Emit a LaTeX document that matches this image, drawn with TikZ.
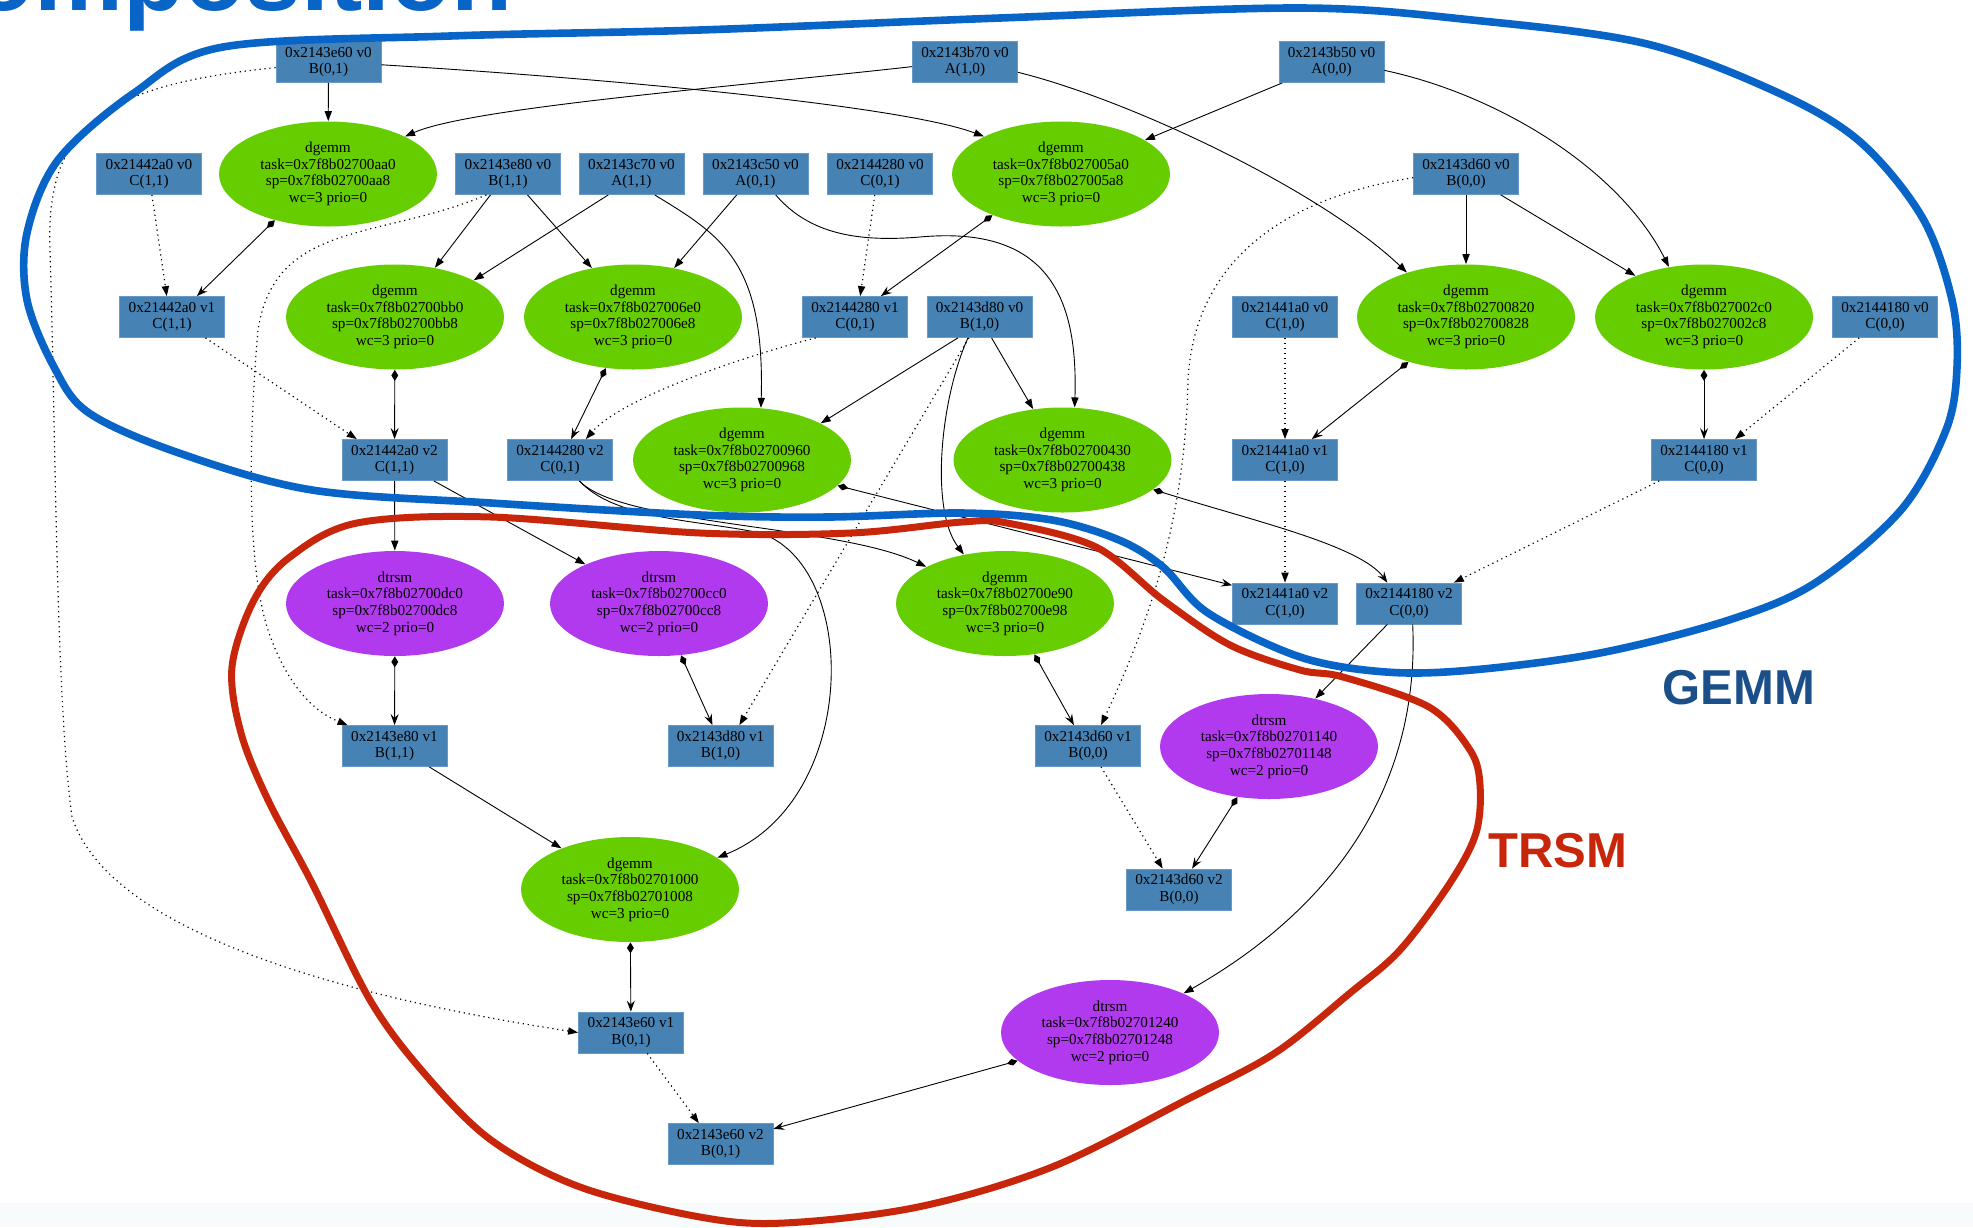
\documentclass[tikz,border=0pt]{standalone}
\usepackage{fontspec}
\setmainfont{Liberation Serif}
\newfontfamily\sansface{Liberation Sans}
\usetikzlibrary{shapes.geometric,arrows.meta,decorations.pathmorphing}

\definecolor{boxblue}{HTML}{4682B4}
\definecolor{boxedge}{RGB}{104,152,200}
\definecolor{gemmgreen}{HTML}{66CD00}
\definecolor{trsmpurple}{HTML}{B23AEE}
\definecolor{ringblue}{RGB}{8,100,198}
\definecolor{ringred}{RGB}{200,38,10}
\definecolor{gemmlabel}{RGB}{26,79,138}
\definecolor{bandtint}{RGB}{248,251,251}

\newcommand\gvfont{\fontsize{7.6}{8.3}\selectfont}

\tikzset{
  databox/.style={rectangle, fill=boxblue, draw=boxedge, line width=0.4pt,
    minimum width=52.5pt, minimum height=20.5pt, inner sep=0pt, align=center, font=\gvfont},
  gemmtask/.style={ellipse, fill=gemmgreen, minimum width=109pt, minimum height=52.5pt,
    inner sep=0pt, align=center, font=\gvfont},
  trsmtask/.style={gemmtask, fill=trsmpurple},
  readedge/.style={line width=0.45pt, -{Triangle[length=5pt,width=3.6pt]}},
  chainedge/.style={readedge, line width=0.6pt, dash pattern=on 0.6pt off 1.9pt},
  writeedge/.style={line width=0.45pt,
    {Diamond[length=5.5pt,width=3.4pt]}-{Stealth[length=5.5pt,width=4pt,inset=2pt]}},
  bluering/.style={draw=ringblue, line width=3.8pt, line join=round},
  bluefray/.style={draw=ringblue, line width=0.9pt, line join=round, decorate,
    decoration={random steps, segment length=2pt, amplitude=0.8pt}},
  redring/.style={draw=ringred, line width=3.5pt, line join=round},
  grouplabel/.style={font=\sansface\bfseries\fontsize{24.5}{25}\selectfont, inner sep=0pt},
}

\begin{document}
\begin{tikzpicture}[x=0.5pt, y=-0.5pt]
\pgfmathsetseed{4}
\useasboundingbox (0,0) rectangle (1973,1227);
\fill[white] (0,0) rectangle (1973,1227);
\fill[bandtint] (0,1203) rectangle (1973,1227);

% heading fragment
\node[anchor=base east, inner sep=0pt, text=ringblue,
  font=\sansface\bfseries\fontsize{50}{50}\selectfont] (heading) at (513,10) {omposition};

% data versions
\node[databox] (B01v0) at (328.5,62) {0x2143e60 v0\\B(0,1)};
\node[databox] (A10v0) at (965,62) {0x2143b70 v0\\A(1,0)};
\node[databox] (A00v0) at (1331.5,62) {0x2143b50 v0\\A(0,0)};
\node[databox] (C11v0) at (149,174) {0x21442a0 v0\\C(1,1)};
\node[databox] (B11v0) at (508,174) {0x2143e80 v0\\B(1,1)};
\node[databox] (A11v0) at (631.5,174) {0x2143c70 v0\\A(1,1)};
\node[databox] (A01v0) at (755.5,174) {0x2143c50 v0\\A(0,1)};
\node[databox] (C01v0) at (880,174) {0x2144280 v0\\C(0,1)};
\node[databox] (B00v0) at (1466,174) {0x2143d60 v0\\B(0,0)};
\node[databox] (C11v1) at (172,317) {0x21442a0 v1\\C(1,1)};
\node[databox] (C01v1) at (855,317) {0x2144280 v1\\C(0,1)};
\node[databox] (B10v0) at (979.5,317) {0x2143d80 v0\\B(1,0)};
\node[databox] (C10v0) at (1285,317) {0x21441a0 v0\\C(1,0)};
\node[databox] (C00v0) at (1885,317) {0x2144180 v0\\C(0,0)};
\node[databox] (C11v2) at (394.5,460) {0x21442a0 v2\\C(1,1)};
\node[databox] (C01v2) at (560,460) {0x2144280 v2\\C(0,1)};
\node[databox] (C10v1) at (1285,460) {0x21441a0 v1\\C(1,0)};
\node[databox] (C00v1) at (1704,460) {0x2144180 v1\\C(0,0)};
\node[databox] (C10v2) at (1285,603.5) {0x21441a0 v2\\C(1,0)};
\node[databox] (C00v2) at (1409,603.5) {0x2144180 v2\\C(0,0)};
\node[databox] (B11v1) at (394.5,746) {0x2143e80 v1\\B(1,1)};
\node[databox] (B10v1) at (720.5,746) {0x2143d80 v1\\B(1,0)};
\node[databox] (B00v1) at (1088,746) {0x2143d60 v1\\B(0,0)};
\node[databox] (B00v2) at (1179,889.5) {0x2143d60 v2\\B(0,0)};
\node[databox] (B01v1) at (631,1032.5) {0x2143e60 v1\\B(0,1)};
\node[databox] (B01v2) at (720.5,1144) {0x2143e60 v2\\B(0,1)};

% tasks
\node[gemmtask] (tAA0) at (328,174) {dgemm\\task=0x7f8b02700aa0\\sp=0x7f8b02700aa8\\wc=3 prio=0};
\node[gemmtask] (t5A0) at (1061,174) {dgemm\\task=0x7f8b027005a0\\sp=0x7f8b027005a8\\wc=3 prio=0};
\node[gemmtask] (tBB0) at (395,317) {dgemm\\task=0x7f8b02700bb0\\sp=0x7f8b02700bb8\\wc=3 prio=0};
\node[gemmtask] (t6E0) at (633,317) {dgemm\\task=0x7f8b027006e0\\sp=0x7f8b027006e8\\wc=3 prio=0};
\node[gemmtask] (t820) at (1466,317) {dgemm\\task=0x7f8b02700820\\sp=0x7f8b02700828\\wc=3 prio=0};
\node[gemmtask] (t2C0) at (1704,317) {dgemm\\task=0x7f8b027002c0\\sp=0x7f8b027002c8\\wc=3 prio=0};
\node[gemmtask] (t960) at (742,460) {dgemm\\task=0x7f8b02700960\\sp=0x7f8b02700968\\wc=3 prio=0};
\node[gemmtask] (t430) at (1062.5,460) {dgemm\\task=0x7f8b02700430\\sp=0x7f8b02700438\\wc=3 prio=0};
\node[trsmtask] (tDC0) at (395,603.5) {dtrsm\\task=0x7f8b02700dc0\\sp=0x7f8b02700dc8\\wc=2 prio=0};
\node[trsmtask] (tCC0) at (659,603.5) {dtrsm\\task=0x7f8b02700cc0\\sp=0x7f8b02700cc8\\wc=2 prio=0};
\node[gemmtask] (tE90) at (1005,603.5) {dgemm\\task=0x7f8b02700e90\\sp=0x7f8b02700e98\\wc=3 prio=0};
\node[trsmtask] (t140) at (1269,746.5) {dtrsm\\task=0x7f8b02701140\\sp=0x7f8b02701148\\wc=2 prio=0};
\node[gemmtask] (t1000) at (630,889.5) {dgemm\\task=0x7f8b02701000\\sp=0x7f8b02701008\\wc=3 prio=0};
\node[trsmtask] (t240) at (1110,1032.5) {dtrsm\\task=0x7f8b02701240\\sp=0x7f8b02701248\\wc=2 prio=0};

% reads: data version -> task
\draw[readedge] (B01v0) -- (tAA0);
\draw[readedge] (B01v0.-3) .. controls (600,78) and (900,105) .. (t5A0.154);
\draw[readedge] (A10v0.185) .. controls (720,88) and (470,108) .. (tAA0.26);
\draw[readedge] (A10v0.-11) .. controls (1130,100) and (1320,190) .. (t820.143);
\draw[readedge] (A00v0.203) -- (t5A0.22);
\draw[readedge] (A00v0.-9) .. controls (1500,95) and (1620,170) .. (t2C0.125);
\draw[readedge] (B11v0.-130) -- (tBB0.51);
\draw[readedge] (B11v0.-47) -- (t6E0.130);
\draw[readedge] (A11v0.-138) -- (tBB0.25);
\draw[readedge] (A11v0.-42) .. controls (720,235) and (765,260) .. (t960.70);
\draw[readedge] (A01v0.-132) -- (t6E0.50);
\draw[readedge] (A01v0.-46) .. controls (810,235) and (860,242) .. (920,237)
  .. controls (1050,225) and (1078,300) .. (t430.77);
\draw[readedge] (B00v0) -- (t820);
\draw[readedge] (B00v0.-31) -- (t2C0.149);
\draw[readedge] (B10v0.-136) -- (t960.25);
\draw[readedge] (B10v0.-60) -- (t430.120);
\draw[readedge] (B10v0.-119) .. controls (940,400) and (930,510) .. (tE90.130);
\draw[readedge] (C11v2) -- (tDC0);
\draw[readedge] (C11v2.-28) -- (tCC0.152);
\draw[readedge] (C01v2.-47) .. controls (615,520) and (700,520) .. (760,533)
  .. controls (860,565) and (860,800) .. (t1000.20);
\draw[readedge] (C01v2.-47) .. controls (620,525) and (840,525) .. (tE90.155);
\draw[readedge] (B11v1.-31) -- (t1000.149);
\draw[readedge] (C00v2.-136) -- (t140.46);
\draw[readedge] (C00v2.-80) .. controls (1420,790) and (1330,910) .. (t240.28);

% writes: task -> new data version
\draw[writeedge] (tAA0.-139) -- (C11v1.40);
\draw[writeedge] (t5A0.-149) -- (C01v1.39);
\draw[writeedge] (tBB0) -- (C11v2);
\draw[writeedge] (t6E0.-118) -- (C01v2.62);
\draw[writeedge] (t820.-142) -- (C10v1.38);
\draw[writeedge] (t2C0) -- (C00v1);
\draw[writeedge] (t960.-15) -- (C10v2.161);
\draw[writeedge] (t430.-18) .. controls (1250,520) and (1360,545) .. (C00v2.136);
\draw[writeedge] (tDC0) -- (B11v1);
\draw[writeedge] (tCC0.-67) -- (B10v1.111);
\draw[writeedge] (tE90.-60) -- (B00v1.124);
\draw[writeedge] (t140.-122) -- (B00v2.58);
\draw[writeedge] (t1000) -- (B01v1);
\draw[writeedge] (t240.-163) -- (B01v2.16);

% version chains
\draw[chainedge] (C11v0.-82) -- (C11v1.104);
\draw[chainedge] (C11v1.-32) -- (C11v2.151);
\draw[chainedge] (C01v0.-104) -- (C01v1.76);
\draw[chainedge] (C01v1.-152) .. controls (730,360) and (620,400) .. (C01v2.39);
\draw[chainedge] (C10v0) -- (C10v1);
\draw[chainedge] (C10v1) -- (C10v2);
\draw[chainedge] (C00v0.-141) -- (C00v1.34);
\draw[chainedge] (C00v1.-155) -- (C00v2.25);
\draw[chainedge] (B11v0.-136) .. controls (380,240) and (275,220) .. (258,330)
  .. controls (250,420) and (245,560) .. (268,630)
  .. controls (285,680) and (310,710) .. (B11v1.156);
\draw[chainedge] (B10v0.-117) -- (B10v1.48);
\draw[chainedge] (B00v0.184) .. controls (1300,195) and (1195,250) .. (1188,380)
  .. controls (1185,520) and (1150,620) .. (B00v1.58);
\draw[chainedge] (B00v1.-58) -- (B00v2.128);
\draw[chainedge] (B01v0.186) .. controls (110,85) and (45,120) .. (50,250)
  .. controls (56,450) and (56,700) .. (72,817)
  .. controls (105,920) and (300,990) .. (B01v1.180);
\draw[chainedge] (B01v1.-52) -- (B01v2.136);

% hand-drawn group outlines
\def\gemmloop{(223,47) (450,36) (700,30) (1000,18) (1300,8) (1472,20) (1643,43)
  (1772,90) (1858,140) (1922,217) (1952,300) (1957,367) (1946,430) (1901,510)
  (1815,583) (1729,620) (1600,653) (1472,670) (1386,672) (1300,657) (1208,613)
  (1163,567) (1119,540) (1052,520) (962,513) (829,517) (700,515) (491,503)
  (312,490) (179,453) (89,413) (54,367) (27,300) (27,233) (58,160) (134,93)}
\draw[bluering] plot[smooth cycle, tension=0.55] coordinates {\gemmloop};
\draw[bluefray] plot[smooth cycle, tension=0.55] coordinates {\gemmloop};

\draw[redring] plot[smooth cycle, tension=0.55] coordinates {
  (700,533) (491,517) (357,523) (290,557) (254,600) (232,667) (241,733)
  (268,800) (312,883) (370,1000) (424,1073) (491,1140) (580,1187) (700,1217)
  (784,1223) (918,1207) (1052,1167) (1186,1100) (1275,1053) (1350,993)
  (1400,950) (1450,883) (1476,833) (1480,785) (1470,750) (1429,707) (1343,677)
  (1300,670) (1230,645) (1163,600) (1096,547) (1007,523) (962,522) (851,533)};

\node[grouplabel, text=gemmlabel] (gemmname) at (1739,688) {GEMM};
\node[grouplabel, text=ringred] (trsmname) at (1558,851) {TRSM};
\end{tikzpicture}
\end{document}
